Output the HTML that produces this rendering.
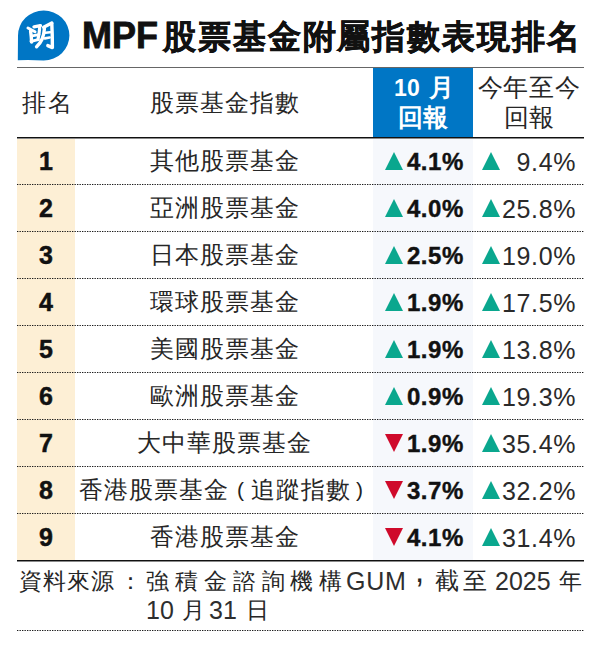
<!DOCTYPE html>
<html lang="zh-Hant-HK">
<head>
<meta charset="utf-8">
<style>
html,body{margin:0;padding:0;background:#fff;}
body{width:600px;height:651px;position:relative;overflow:hidden;font-family:"Liberation Sans",sans-serif;color:#111;}
.abs{position:absolute;}
#logo{left:0;top:0;width:80px;height:70px;}
#title{left:82px;top:12px;white-space:nowrap;line-height:48px;color:#111;}
#mpf{font-size:36px;font-weight:bold;letter-spacing:0px;-webkit-text-stroke:0.8px #111;}
#tcjk{font-size:33px;font-weight:bold;letter-spacing:1.9px;margin-left:5px;-webkit-text-stroke:0.5px #111;}
.hline{position:absolute;left:17px;width:567px;}
#l1{top:67px;height:1px;background:#666;}
#l2{top:137px;height:1px;background:#111;border-bottom:1px solid #8a8a8a;}
#l3{top:560px;height:1px;background:#111;border-bottom:1px solid #8a8a8a;}
.dot{position:absolute;left:17px;width:567px;height:1px;background:repeating-linear-gradient(to right,#222 0 1.5px,transparent 1.5px 2.6667px);}
#beige{left:17px;top:139px;width:58px;height:421px;background:#fdefd5;}
#bluecol{left:373px;top:139px;width:100px;height:421px;background:#f6f8fc;}
#bluehead{left:373px;top:68px;width:100px;height:69px;background:#0076c5;}
.hd{position:absolute;font-size:25px;line-height:28px;white-space:nowrap;}
.row{position:absolute;left:17px;width:566px;height:46px;}
.rk{position:absolute;left:0;width:58px;text-align:center;font-weight:bold;font-size:25px;line-height:45px;-webkit-text-stroke:0.5px #111;}
.nm{position:absolute;top:-1px;color:#262626;left:58px;width:298px;text-align:center;font-size:24px;letter-spacing:1px;text-indent:1px;line-height:46px;white-space:nowrap;}
.par{display:inline-block;font-size:21px;letter-spacing:0;text-align:left;vertical-align:1px;color:#222;}
.m1{position:absolute;left:356px;width:91px;text-align:right;font-weight:bold;font-size:24px;line-height:46px;white-space:nowrap;letter-spacing:0.6px;-webkit-text-stroke:0.4px #111;}
.m2{position:absolute;left:470px;width:89px;text-align:right;font-size:25px;line-height:46px;white-space:nowrap;letter-spacing:0.6px;color:#2a2a2a;}
.tri{position:absolute;width:0;height:0;border-left:9.5px solid transparent;border-right:9.5px solid transparent;}
.t1{left:368px;top:12.5px;}
.t2{left:465px;top:12.5px;}
.up{border-bottom:18px solid #0aa78e;}
.dn{border-top:18px solid #cf0a2b;}
#src{left:0;top:565px;width:600px;height:60px;color:#262626;}
.sp{position:absolute;top:0;font-size:23px;line-height:32px;white-space:nowrap;}
.sl{font-size:25px;color:#2e2e2e;}
</style>
</head>
<body>
<svg id="logo" class="abs" viewBox="0 0 80 70" width="80" height="70">
<path d="M17.8 60.2 L18 35.5 A25.7 25 0 1 1 43.7 60.5 Q30 59.6 17.8 60.2 Z" fill="#0076c5"/>
<g stroke="#fff" stroke-linecap="round" stroke-linejoin="round" fill="none">
<path d="M28 28 L35 31.8" stroke-width="3"/>
<path d="M30.6 31 Q31.4 37 31.6 42" stroke-width="3.4"/>
<path d="M34 26.8 L40.4 25.6" stroke-width="3.4"/>
<path d="M39.8 26 Q39.4 33 38 39.3" stroke-width="3.2"/>
<path d="M32.2 35.8 L39 34.6" stroke-width="2.8"/>
<path d="M31 41.4 L38.2 39.6" stroke-width="2.8"/>
<path d="M44.4 28.6 Q43.8 40 36.6 46.8" stroke-width="3.4"/>
<path d="M43.6 27.2 L51.8 23" stroke-width="3.4"/>
<path d="M51.8 23.4 Q52.4 35 52.4 47.6 L47.8 45.6" stroke-width="3.4"/>
<path d="M45.6 32.8 L50.1 32.2" stroke-width="2.6"/>
<path d="M44.8 38.4 L49.7 37.5" stroke-width="2.6"/>
</g>
</svg>
<div id="title" class="abs"><span id="mpf">MPF</span><span id="tcjk">股票基金附屬指數表現排名</span></div>
<div id="l1" class="hline"></div>
<div id="bluehead" class="abs"></div>
<div id="beige" class="abs"></div>
<div id="bluecol" class="abs"></div>
<div id="l2" class="hline"></div>
<div class="hd" style="left:22px;top:89px;font-size:24px;letter-spacing:1.5px;color:#262626">排名</div>
<div class="hd" style="left:75px;width:298px;text-align:center;top:89px;font-size:24px;letter-spacing:1px;text-indent:1px;color:#262626">股票基金指數</div>
<div class="hd" style="left:373px;width:100px;text-align:center;top:73px;line-height:29px;color:#fff;font-weight:bold;"><span style="font-size:23px;letter-spacing:0.3px;margin-left:2px">10</span><span style="margin-left:9px">月</span><br>回報</div>
<div class="hd" style="left:474px;width:110px;text-align:center;top:72px;line-height:30px;color:#262626"><span style="letter-spacing:0.7px">今年至今</span><br>回報</div>

<svg class="abs" style="left:0;top:0" width="600" height="651"><g stroke="#1a1a1a" stroke-width="1.2" stroke-dasharray="1.35 1.15"><line x1="17" y1="184.5" x2="584" y2="184.5"/><line x1="17" y1="231.5" x2="584" y2="231.5"/><line x1="17" y1="278.5" x2="584" y2="278.5"/><line x1="17" y1="325.5" x2="584" y2="325.5"/><line x1="17" y1="372.5" x2="584" y2="372.5"/><line x1="17" y1="419.5" x2="584" y2="419.5"/><line x1="17" y1="466.5" x2="584" y2="466.5"/><line x1="17" y1="513.5" x2="584" y2="513.5"/><line x1="17" y1="630.5" x2="584" y2="630.5"/></g></svg>
<div id="l3" class="hline"></div>

<div class="row" style="top:139px"><div class="rk">1</div><div class="nm">其他股票基金</div><span class="tri t1 up"></span><div class="m1">4.1%</div><span class="tri t2 up"></span><div class="m2">9.4%</div></div>
<div class="row" style="top:186px"><div class="rk">2</div><div class="nm">亞洲股票基金</div><span class="tri t1 up"></span><div class="m1">4.0%</div><span class="tri t2 up"></span><div class="m2">25.8%</div></div>
<div class="row" style="top:233px"><div class="rk">3</div><div class="nm">日本股票基金</div><span class="tri t1 up"></span><div class="m1">2.5%</div><span class="tri t2 up"></span><div class="m2">19.0%</div></div>
<div class="row" style="top:280px"><div class="rk">4</div><div class="nm">環球股票基金</div><span class="tri t1 up"></span><div class="m1">1.9%</div><span class="tri t2 up"></span><div class="m2">17.5%</div></div>
<div class="row" style="top:327px"><div class="rk">5</div><div class="nm">美國股票基金</div><span class="tri t1 up"></span><div class="m1">1.9%</div><span class="tri t2 up"></span><div class="m2">13.8%</div></div>
<div class="row" style="top:374px"><div class="rk">6</div><div class="nm">歐洲股票基金</div><span class="tri t1 up"></span><div class="m1">0.9%</div><span class="tri t2 up"></span><div class="m2">19.3%</div></div>
<div class="row" style="top:421px"><div class="rk">7</div><div class="nm">大中華股票基金</div><span class="tri t1 dn"></span><div class="m1">1.9%</div><span class="tri t2 up"></span><div class="m2">35.4%</div></div>
<div class="row" style="top:468px"><div class="rk">8</div><div class="nm" style="text-align:left;left:61px;">香港股票基金<span class="par" style="width:22px;text-indent:8px">(</span>追蹤指數<span class="par" style="width:12px;text-indent:5px">)</span></div><span class="tri t1 dn"></span><div class="m1">3.7%</div><span class="tri t2 up"></span><div class="m2">32.2%</div></div>
<div class="row" style="top:515px"><div class="rk">9</div><div class="nm">香港股票基金</div><span class="tri t1 dn"></span><div class="m1">4.1%</div><span class="tri t2 up"></span><div class="m2">31.4%</div></div>

<div id="src" class="abs">
<span class="sp" style="left:18.5px;letter-spacing:1.3px">資料來源</span>
<span class="sp" style="left:119px">：</span>
<span class="sp" style="left:146px;letter-spacing:5.9px">強積金諮詢機構</span>
<span class="sp sl" style="left:346px;letter-spacing:0.8px">GUM</span>
<span class="sp" style="left:415px;top:-10px;font-size:33px;">,</span>
<span class="sp" style="left:435px;letter-spacing:4px;font-size:24px">截至</span>
<span class="sp sl" style="left:495px">2025</span>
<span class="sp" style="left:559px">年</span>
<span class="sp sl" style="left:146px;top:29px">10</span>
<span class="sp" style="left:182px;top:29px">月</span>
<span class="sp sl" style="left:209px;top:29px">31</span>
<span class="sp" style="left:246px;top:29px">日</span>
</div>
</body>
</html>
